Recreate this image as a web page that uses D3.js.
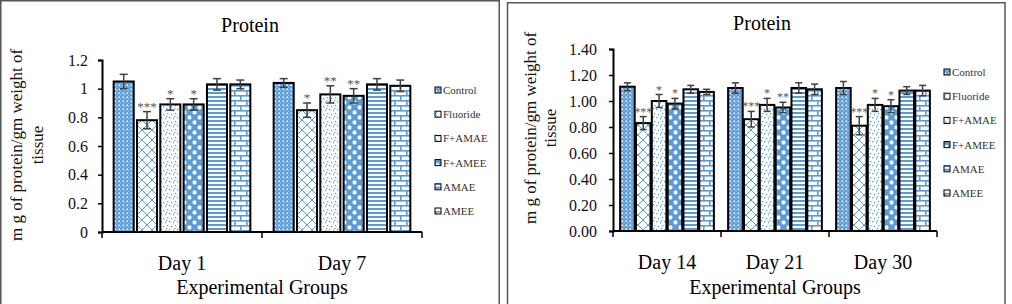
<!DOCTYPE html>
<html>
<head>
<meta charset="utf-8">
<script src="https://cdn.jsdelivr.net/npm/d3@7"></script>
<style>
  body { margin: 0; background: #fff; }
  svg text { font-family: "Liberation Serif", "Times New Roman", Times, serif; }
</style>
</head>
<body>
<div id="chart"></div>
<script>
// groups (series) shown in every day cluster
var series = ["Control", "Fluoride", "F+AMAE", "F+AMEE", "AMAE", "AMEE"];

// left chart : day 1 and day 7
var leftDays = ["Day 1", "Day 7"];
var leftMeans = [
    [1.05, 0.78, 0.89, 0.89, 1.03, 1.03],
    [1.04, 0.85, 0.96, 0.95, 1.03, 1.02]
];
var leftErrs = [
    [0.05, 0.06, 0.04, 0.04, 0.04, 0.03],
    [0.03, 0.05, 0.06, 0.05, 0.04, 0.04]
];
var leftSig = [
    ["", "***", "*", "*", "", ""],
    ["", "*", "**", "**", "", ""]
];
var leftTicks = [0, 0.2, 0.4, 0.6, 0.8, 1.0, 1.2];

// right chart : day 14, 21, 30
var rightDays = ["Day 14", "Day 21", "Day 30"];
var rightMeans = [
    [1.11, 0.83, 1.00, 0.98, 1.09, 1.07],
    [1.10, 0.86, 0.97, 0.95, 1.10, 1.09],
    [1.10, 0.81, 0.97, 0.96, 1.08, 1.08]
];
var rightErrs = [
    [0.03, 0.05, 0.05, 0.04, 0.03, 0.02],
    [0.04, 0.06, 0.05, 0.04, 0.04, 0.04],
    [0.05, 0.07, 0.05, 0.05, 0.03, 0.04]
];
var rightSig = [
    ["", "***", "*", "*", "", ""],
    ["", "***", "*", "**", "", ""],
    ["", "***", "*", "*", "", ""]
];
var rightTicks = [0, 0.2, 0.4, 0.6, 0.8, 1.0, 1.2, 1.4];

var w = 1012, h = 304;
var blue = "#5b9bd5";
var serif = "'Liberation Serif', 'Times New Roman', Times, serif";

var svg = d3.select("#chart").append("svg")
    .attr("width", w)
    .attr("height", h)
    .attr("font-family", serif);

// fill patterns, one per group
var defs = svg.append("defs");

function pattern(id, pw, ph, bg) {
    var p = defs.append("pattern")
        .attr("id", id)
        .attr("patternUnits", "userSpaceOnUse")
        .attr("width", pw)
        .attr("height", ph);
    p.append("rect").attr("width", pw).attr("height", ph).attr("fill", bg);
    return p;
}

// Control : small dotted grid
var p0 = pattern("pat0", 4, 4, blue);
p0.append("rect").attr("x", 0.5).attr("y", 0.5).attr("width", 1.6).attr("height", 1.6).attr("fill", "#fff");
p0.append("rect").attr("x", 2.5).attr("y", 2.5).attr("width", 1).attr("height", 1).attr("fill", "#dbe8f5");

// Fluoride : diamond lattice
var p1 = pattern("pat1", 10, 10, "#fff");
p1.append("path").attr("d", "M0,0L10,10M10,0L0,10").attr("stroke", blue).attr("stroke-width", 1);

// F+AMAE : sparse dots
var p2 = pattern("pat2", 8, 8, "#fff");
[[1, 1], [5, 2], [3, 5], [7, 6], [0, 4]].forEach(function(d) {
    p2.append("rect").attr("x", d[0]).attr("y", d[1]).attr("width", 1.3).attr("height", 1.3).attr("fill", blue);
});

// F+AMEE : large checker with rounded cells
var p3 = pattern("pat3", 10, 10, blue);
p3.append("rect").attr("x", 0.6).attr("y", 0.6).attr("width", 3.8).attr("height", 3.8).attr("rx", 1.4).attr("fill", "#fff");
p3.append("rect").attr("x", 5.6).attr("y", 5.6).attr("width", 3.8).attr("height", 3.8).attr("rx", 1.4).attr("fill", "#fff");

// AMAE : horizontal stripes
var p4 = pattern("pat4", 4, 4, "#fff");
p4.append("rect").attr("width", 4).attr("height", 2).attr("fill", blue);

// AMEE : bricks
var p5 = pattern("pat5", 12, 10, "#fff");
p5.append("rect").attr("width", 12).attr("height", 1.6).attr("fill", blue);
p5.append("rect").attr("y", 5).attr("width", 12).attr("height", 1.6).attr("fill", blue);
p5.append("rect").attr("x", 0).attr("y", 0).attr("width", 1.6).attr("height", 5).attr("fill", blue);
p5.append("rect").attr("x", 6).attr("y", 5).attr("width", 1.6).attr("height", 5).attr("fill", blue);

function drawPanel(cfg, days, means, errs, sig, ticks) {
    var g = svg.append("g");

    // panel frame
    g.append("rect")
        .attr("x", cfg.frame[0]).attr("y", cfg.frame[1])
        .attr("width", cfg.frame[2]).attr("height", cfg.frame[3])
        .attr("fill", "none")
        .attr("stroke", "#555")
        .attr("stroke-width", 1.5);

    var y = d3.scaleLinear()
        .domain([0, d3.max(ticks)])
        .range([cfg.yBot, cfg.yTop]);

    var x0 = d3.scaleBand()
        .domain(days)
        .range([cfg.xL, cfg.xR])
        .padding(0);

    var x1 = d3.scaleBand()
        .domain(series)
        .range([0, x0.bandwidth()])
        .paddingInner(cfg.padIn)
        .paddingOuter(cfg.padOut);

    // title
    g.append("text")
        .attr("x", cfg.titleX)
        .attr("y", cfg.titleY)
        .attr("text-anchor", "middle")
        .style("font-size", "20px")
        .text("Protein");

    // y axis
    var yAxis = g.append("g")
        .attr("transform", "translate(" + cfg.xL + ",0)")
        .call(d3.axisLeft(y).tickValues(ticks).tickSize(4).tickPadding(cfg.tickPad).tickFormat(cfg.fmt));
    yAxis.attr("font-family", serif).attr("font-size", 16);
    yAxis.select(".domain").attr("stroke", "#000").attr("stroke-width", 2);
    yAxis.selectAll(".tick line").attr("stroke", "#000").attr("stroke-width", 1.5);
    yAxis.selectAll(".tick text").attr("fill", "#111");

    // x axis with ticks between groups
    var bounds = days.map(function(d) { return x0(d); }).concat([cfg.xR]);
    g.append("line")
        .attr("x1", cfg.xL).attr("x2", cfg.xR)
        .attr("y1", y(0)).attr("y2", y(0))
        .attr("stroke", "#000").attr("stroke-width", 2);
    g.selectAll(".xtick")
        .data(bounds)
        .enter()
        .append("line")
        .attr("x1", function(d) { return d; })
        .attr("x2", function(d) { return d; })
        .attr("y1", y(0))
        .attr("y2", y(0) + 6)
        .attr("stroke", "#000")
        .attr("stroke-width", 1.5);

    g.selectAll(".daylabel")
        .data(days)
        .enter()
        .append("text")
        .attr("x", function(d) { return x0(d) + x0.bandwidth() / 2; })
        .attr("y", cfg.dayY)
        .attr("text-anchor", "middle")
        .style("font-size", "20px")
        .text(function(d) { return d; });

    g.append("text")
        .attr("x", cfg.xTitleX)
        .attr("y", cfg.xTitleY)
        .attr("text-anchor", "middle")
        .style("font-size", "20px")
        .text("Experimental Groups");

    // y title, two lines
    [["m g of protein/gm weight of", cfg.yTitleX[0]], ["tissue", cfg.yTitleX[1]]].forEach(function(l) {
        g.append("text")
            .attr("transform", "translate(" + l[1] + "," + cfg.yTitleY + ") rotate(-90)")
            .attr("text-anchor", "middle")
            .attr("dominant-baseline", "central")
            .attr("fill", "#1a1208")
            .style("font-size", "17px")
            .text(l[0]);
    });

    // bars
    days.forEach(function(day, di) {
        var grp = g.append("g").attr("transform", "translate(" + x0(day) + ",0)");
        var rows = series.map(function(s, si) {
            return { name: s, i: si, v: means[di][si], e: errs[di][si], s: sig[di][si] };
        });

        grp.selectAll(".bar")
            .data(rows)
            .enter()
            .append("rect")
            .attr("x", function(d) { return x1(d.name); })
            .attr("y", function(d) { return y(d.v); })
            .attr("width", x1.bandwidth())
            .attr("height", function(d) { return y(0) - y(d.v); })
            .attr("fill", function(d) { return "url(#pat" + d.i + ")"; })
            .attr("stroke", "#000")
            .attr("stroke-width", 2);

        var eb = grp.selectAll(".err")
            .data(rows)
            .enter()
            .append("g")
            .attr("stroke", "#404040")
            .attr("stroke-width", 1.5);
        var cx = function(d) { return x1(d.name) + x1.bandwidth() / 2; };
        eb.append("line")
            .attr("x1", cx).attr("x2", cx)
            .attr("y1", function(d) { return y(d.v - d.e); })
            .attr("y2", function(d) { return y(d.v + d.e); });
        [-1, 1].forEach(function(k) {
            eb.append("line")
                .attr("x1", function(d) { return cx(d) - cfg.cap; })
                .attr("x2", function(d) { return cx(d) + cfg.cap; })
                .attr("y1", function(d) { return y(d.v + k * d.e); })
                .attr("y2", function(d) { return y(d.v + k * d.e); });
        });

        grp.selectAll(".sig")
            .data(rows.filter(function(d) { return d.s; }))
            .enter()
            .append("text")
            .attr("x", cx)
            .attr("y", function(d) { return y(d.v + d.e) - 1; })
            .attr("text-anchor", "middle")
            .attr("fill", "#555")
            .style("font-size", cfg.sigSize)
            .text(function(d) { return d.s; });
    });

    // legend
    var legend = g.selectAll(".legend")
        .data(series)
        .enter()
        .append("g")
        .attr("transform", function(d, i) {
            return "translate(" + cfg.legX + "," + (cfg.legY + cfg.legStep * i) + ")";
        });

    legend.append("rect")
        .attr("x", 0).attr("y", -3)
        .attr("width", 6).attr("height", 6)
        .attr("fill", function(d, i) { return "url(#pat" + i + ")"; })
        .attr("stroke", "#000")
        .attr("stroke-width", 1);

    legend.append("text")
        .attr("x", 8)
        .attr("y", 0)
        .attr("dominant-baseline", "central")
        .attr("fill", "#333")
        .style("font-size", "11px")
        .text(function(d) { return d; });
}

drawPanel({
    frame: [0.75, 0.75, 498.5, 320],
    xL: 102, xR: 422, yTop: 60, yBot: 232,
    padIn: 0.14, padOut: 0.5, cap: 4, tickPad: 10,
    fmt: d3.format("~g"),
    titleX: 250, titleY: 32,
    dayY: 270, xTitleX: 262, xTitleY: 294,
    yTitleX: [16, 37], yTitleY: 145,
    legX: 435, legY: 90, legStep: 24.2,
    sigSize: "13px"
}, leftDays, leftMeans, leftErrs, leftSig, leftTicks);

drawPanel({
    frame: [507.5, 2.75, 497.5, 320],
    xL: 613, xR: 937, yTop: 49, yBot: 231,
    padIn: 0.08, padOut: 0.45, cap: 3.5, tickPad: 12,
    fmt: d3.format(".2f"),
    titleX: 762, titleY: 30,
    dayY: 269, xTitleX: 775, xTitleY: 294,
    yTitleX: [530, 550], yTitleY: 128,
    legX: 944, legY: 72, legStep: 24.2,
    sigSize: "12px"
}, rightDays, rightMeans, rightErrs, rightSig, rightTicks);
</script>
</body>
</html>
